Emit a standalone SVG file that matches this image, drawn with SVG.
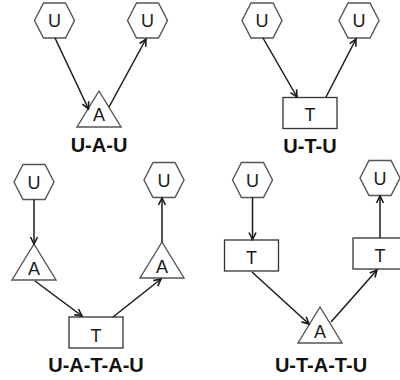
<svg xmlns="http://www.w3.org/2000/svg" width="400" height="380" viewBox="0 0 400 380">
<defs>
<marker id="arr" markerUnits="userSpaceOnUse" markerWidth="10" markerHeight="10" refX="8" refY="4" orient="auto" viewBox="0 0 10 8">
<path d="M1,0.5 L8,4 L1,7.5" fill="none" stroke="#1a1a1a" stroke-width="1.6"/>
</marker>
<polygon id="hex" points="-20,0 -11,-17.5 11,-17.5 20,0 11,17.5 -11,17.5"/>
<polygon id="tri" points="0,-36 22,0 -22,0"/>
<rect id="box" x="-27" y="-15.5" width="54" height="31"/>
</defs>
<style>
.shape{fill:#fff;stroke:#555;stroke-width:1.4}
.box{fill:#fff;stroke:#333;stroke-width:1.3}
.t{font-family:"Liberation Sans",Arial,sans-serif;font-size:18px;fill:#1a1a1a;text-anchor:middle}
.lbl{font-family:"Liberation Sans",Arial,sans-serif;font-size:20px;font-weight:bold;fill:#111;text-anchor:middle}
.c line{stroke:#1a1a1a;stroke-width:1.5;marker-end:url(#arr)}
</style>
<rect width="400" height="380" fill="#fff"/>

<!-- Panel 1: U-A-U -->
<g id="p1_u1"><use href="#hex" x="54.5" y="20.5" class="shape"/><text class="t" x="54.5" y="27">U</text></g>
<g id="p1_u2"><use href="#hex" x="147.5" y="20.5" class="shape"/><text class="t" x="147.5" y="27">U</text></g>
<g id="p1_a"><use href="#tri" x="99" y="127" class="shape"/><text class="t" x="99" y="121">A</text></g>
<text class="lbl" x="99" y="152">U-A-U</text>

<!-- Panel 2: U-T-U -->
<g id="p2_u1"><use href="#hex" x="262" y="20.5" class="shape"/><text class="t" x="262" y="27">U</text></g>
<g id="p2_u2"><use href="#hex" x="359" y="20.5" class="shape"/><text class="t" x="359" y="27">U</text></g>
<g id="p2_t"><use href="#box" x="310" y="113" class="box"/><text class="t" x="310" y="121">T</text></g>
<text class="lbl" x="310" y="153">U-T-U</text>

<!-- Panel 3: U-A-T-A-U -->
<g id="p3_u1"><use href="#hex" x="34" y="182" class="shape"/><text class="t" x="34" y="188.5">U</text></g>
<g id="p3_a1"><use href="#tri" x="34" y="280" class="shape"/><text class="t" x="34" y="275">A</text></g>
<g id="p3_t"><use href="#box" x="96" y="332.5" class="box"/><text class="t" x="96" y="342">T</text></g>
<g id="p3_a2"><use href="#tri" x="162" y="278" class="shape"/><text class="t" x="162" y="273">A</text></g>
<g id="p3_u2"><use href="#hex" x="164" y="180" class="shape"/><text class="t" x="164" y="186.5">U</text></g>
<text class="lbl" x="96" y="372">U-A-T-A-U</text>

<!-- Panel 4: U-T-A-T-U -->
<g id="p4_u1"><use href="#hex" x="252.5" y="180" class="shape"/><text class="t" x="252.5" y="186.5">U</text></g>
<g id="p4_t1"><use href="#box" x="251.5" y="255.5" class="box"/><text class="t" x="251.5" y="264">T</text></g>
<g id="p4_a"><use href="#tri" x="320" y="343" class="shape"/><text class="t" x="320" y="338">A</text></g>
<g id="p4_t2"><use href="#box" x="380" y="253.5" class="box"/><text class="t" x="380" y="262">T</text></g>
<g id="p4_u2"><use href="#hex" x="380" y="178" class="shape"/><text class="t" x="380" y="184.5">U</text></g>
<text class="lbl" x="321" y="372">U-T-A-T-U</text>

<g id="connectors" class="c">
<line x1="55" y1="38" x2="88.5" y2="109"/>
<line x1="109" y1="107" x2="146" y2="39"/>
<line x1="263" y1="38" x2="297" y2="97"/>
<line x1="326" y1="97" x2="356" y2="39"/>
<line x1="34" y1="199.5" x2="34" y2="244"/>
<line x1="35" y1="281" x2="82" y2="316"/>
<line x1="113" y1="317" x2="161" y2="279"/>
<line x1="162" y1="242" x2="162" y2="198"/>
<line x1="252.5" y1="197.5" x2="252.5" y2="239.5"/>
<line x1="252" y1="272" x2="309" y2="324"/>
<line x1="331" y1="322" x2="377" y2="270"/>
<line x1="380" y1="238" x2="380" y2="196"/>
</g>
</svg>
